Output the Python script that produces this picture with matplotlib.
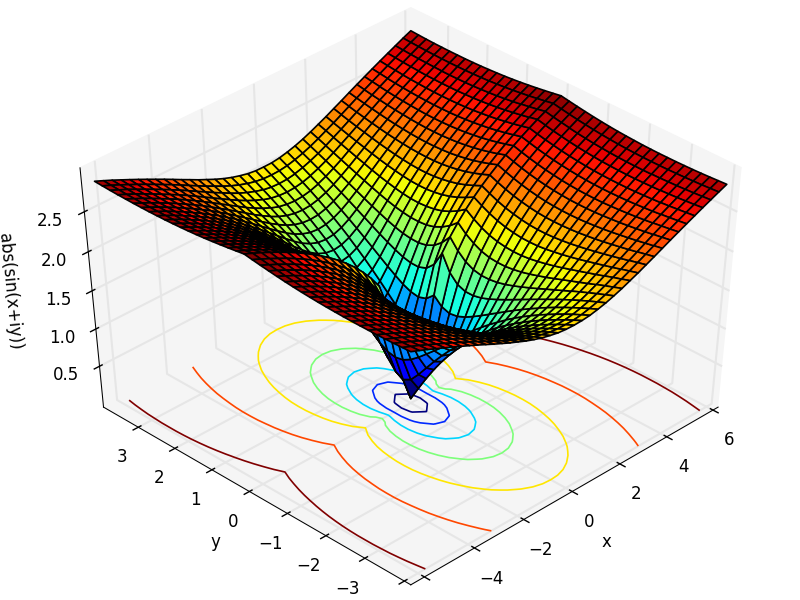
import matplotlib
matplotlib.use("Agg")
import matplotlib.pyplot as plt
import numpy as np

# Surface heights are hand estimates: typed in, not computed. The picture looks
# symmetric, so one quadrant is listed and mirrored; the far end of each mirrored
# axis is dropped because the surface stops one step short there.
x_half = [0.000, 0.314, 0.628, 0.942, 1.257, 1.571, 1.885, 2.199, 2.513, 2.827, 3.142,
          3.456, 3.770, 4.084, 4.398, 4.712, 5.027, 5.341, 5.655, 5.969, 6.283]
y_half = [0.0, 0.2, 0.4, 0.6, 0.8, 1.0, 1.2, 1.4, 1.6, 1.8, 2.0,
          2.2, 2.4, 2.6, 2.8, 3.0, 3.2, 3.4, 3.6, 3.8, 4.0]

# one row per x_half value, one column per y_half value
z_quadrant = [
    [0.000, 0.199, 0.390, 0.569, 0.733, 0.881, 1.016, 1.138, 1.249, 1.351, 1.444, 1.530, 1.609, 1.683, 1.753, 1.818, 1.880, 1.938, 1.994, 2.047, 2.095],
    [0.319, 0.376, 0.502, 0.647, 0.790, 0.925, 1.051, 1.166, 1.272, 1.370, 1.460, 1.542, 1.620, 1.692, 1.761, 1.826, 1.887, 1.943, 1.998, 2.049, 2.099],
    [0.679, 0.700, 0.761, 0.847, 0.946, 1.046, 1.147, 1.243, 1.335, 1.421, 1.503, 1.580, 1.653, 1.721, 1.786, 1.847, 1.905, 1.960, 2.013, 2.062, 2.110],
    [1.228, 1.131, 1.096, 1.113, 1.158, 1.220, 1.287, 1.359, 1.431, 1.502, 1.572, 1.639, 1.704, 1.766, 1.825, 1.882, 1.936, 1.988, 2.038, 2.086, 2.132],
    [1.721, 1.523, 1.421, 1.383, 1.384, 1.408, 1.448, 1.496, 1.548, 1.603, 1.659, 1.715, 1.770, 1.824, 1.876, 1.927, 1.977, 2.025, 2.071, 2.115, 2.158],
    [1.875, 1.752, 1.664, 1.613, 1.592, 1.594, 1.609, 1.637, 1.672, 1.712, 1.754, 1.799, 1.845, 1.890, 1.936, 1.981, 2.025, 2.068, 2.110, 2.151, 2.192],
    [2.006, 1.915, 1.847, 1.797, 1.769, 1.760, 1.761, 1.775, 1.795, 1.823, 1.855, 1.889, 1.926, 1.964, 2.002, 2.040, 2.079, 2.118, 2.156, 2.193, 2.230],
    [2.121, 2.050, 1.992, 1.948, 1.920, 1.904, 1.897, 1.900, 1.912, 1.931, 1.954, 1.980, 2.009, 2.041, 2.073, 2.106, 2.139, 2.173, 2.207, 2.240, 2.274],
    [2.223, 2.168, 2.119, 2.080, 2.051, 2.032, 2.020, 2.018, 2.022, 2.034, 2.051, 2.070, 2.092, 2.117, 2.144, 2.171, 2.199, 2.228, 2.257, 2.287, 2.317],
    [2.315, 2.268, 2.225, 2.190, 2.164, 2.144, 2.130, 2.124, 2.124, 2.130, 2.141, 2.155, 2.173, 2.192, 2.214, 2.237, 2.261, 2.286, 2.312, 2.339, 2.365],
    [2.398, 2.357, 2.321, 2.290, 2.266, 2.247, 2.233, 2.225, 2.223, 2.225, 2.231, 2.240, 2.253, 2.267, 2.284, 2.303, 2.323, 2.344, 2.367, 2.390, 2.413],
    [2.474, 2.438, 2.406, 2.378, 2.355, 2.337, 2.322, 2.314, 2.309, 2.308, 2.311, 2.317, 2.327, 2.338, 2.352, 2.368, 2.385, 2.403, 2.423, 2.443, 2.463],
    [2.545, 2.513, 2.484, 2.459, 2.438, 2.421, 2.407, 2.398, 2.391, 2.389, 2.389, 2.393, 2.400, 2.409, 2.419, 2.432, 2.446, 2.461, 2.478, 2.495, 2.513],
    [2.610, 2.581, 2.555, 2.532, 2.512, 2.496, 2.482, 2.472, 2.465, 2.461, 2.460, 2.461, 2.466, 2.473, 2.481, 2.491, 2.503, 2.516, 2.530, 2.545, 2.561],
    [2.672, 2.646, 2.622, 2.601, 2.582, 2.567, 2.554, 2.544, 2.536, 2.531, 2.529, 2.529, 2.532, 2.536, 2.542, 2.550, 2.559, 2.570, 2.582, 2.595, 2.609],
    [2.729, 2.705, 2.683, 2.664, 2.646, 2.631, 2.619, 2.608, 2.600, 2.595, 2.592, 2.591, 2.592, 2.595, 2.600, 2.606, 2.613, 2.622, 2.633, 2.644, 2.656],
    [2.784, 2.762, 2.742, 2.724, 2.707, 2.693, 2.681, 2.671, 2.663, 2.658, 2.654, 2.652, 2.652, 2.654, 2.657, 2.661, 2.667, 2.674, 2.683, 2.692, 2.703],
    [2.834, 2.813, 2.795, 2.778, 2.762, 2.749, 2.737, 2.728, 2.720, 2.714, 2.710, 2.708, 2.707, 2.708, 2.710, 2.714, 2.718, 2.724, 2.731, 2.739, 2.748],
    [2.883, 2.864, 2.847, 2.831, 2.817, 2.804, 2.793, 2.784, 2.776, 2.770, 2.766, 2.763, 2.762, 2.762, 2.763, 2.766, 2.769, 2.774, 2.779, 2.786, 2.793],
    [2.928, 2.911, 2.895, 2.880, 2.866, 2.854, 2.843, 2.834, 2.827, 2.821, 2.816, 2.813, 2.811, 2.811, 2.811, 2.813, 2.815, 2.819, 2.824, 2.830, 2.836],
    [2.973, 2.957, 2.942, 2.928, 2.915, 2.903, 2.893, 2.884, 2.877, 2.871, 2.866, 2.863, 2.860, 2.859, 2.859, 2.860, 2.861, 2.864, 2.868, 2.873, 2.878],
]

contour_levels = [0.4, 0.8, 1.2, 1.6, 2.0, 2.4, 2.8]
x_ticks = [-6, -4, -2, 0, 2, 4, 6]
y_ticks = [-4, -3, -2, -1, 0, 1, 2, 3]
z_ticks = [0.5, 1.0, 1.5, 2.0, 2.5]

# mirror the quadrant to the whole grid
x = np.array(x_half)
y = np.array(y_half)
x = np.concatenate((-x[:0:-1], x[:-1]))
y = np.concatenate((-y[:0:-1], y[:-1]))
q = np.array(z_quadrant).T
q = np.hstack((q[:, :0:-1], q[:, :-1]))
Z = np.vstack((q[:0:-1, :], q[:-1, :]))
X, Y = np.meshgrid(x, y)

plt.style.use('classic')
fig = plt.figure(figsize=(8, 6), dpi=100)
ax = fig.add_axes([0, 0, 1, 1], projection='3d')
# unit cube stretched over the whole figure
ax.apply_aspect = lambda position=None: None
ax.view_init(elev=45, azim=-135)
ax.set_box_aspect((1, 1, 1), zoom=0.947)

ax.plot_surface(X, Y, Z, rstride=1, cstride=1, cmap='jet', edgecolor='k', linewidth=1.2)
ax.contour(X, Y, Z, levels=contour_levels, zdir='z', offset=-0.062, cmap='jet', linewidths=1.2)

# the box stands a little off the surface on every side
ax.set_xlim(-6.538, 6.224)
ax.set_ylim(-4.1625, 3.9625)
ax.set_zlim(-0.062, 3.035)
ax.set_xticks(x_ticks)
ax.set_yticks(y_ticks)
ax.set_zticks(z_ticks)
ax.set_xlabel('x', labelpad=11)
ax.set_ylabel('y', labelpad=11)
ax.set_zlabel('abs(sin(x+iy))', labelpad=13)
ax.tick_params(axis='both', pad=6)
ax.tick_params(axis='z', pad=6)
for axis in (ax.xaxis, ax.yaxis, ax.zaxis):
    axis.set_pane_color((0.96, 0.96, 0.96, 1.0))
    axis._axinfo['grid']['linewidth'] = 1.5

plt.savefig('out.png', dpi=100)
